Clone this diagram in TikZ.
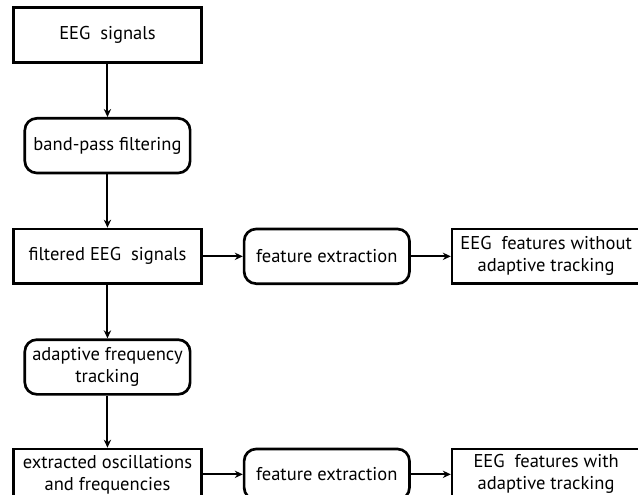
\documentclass[tikz,border=0pt]{standalone}
\usepackage{fontspec}
\setmainfont{PT Sans}
\usetikzlibrary{positioning,arrows.meta}

\begin{document}
\begin{tikzpicture}[
      node distance=40pt and 30pt,
      every node/.style={font=\fontsize{13.9}{16.5}\selectfont},
      data/.style={rectangle, draw, line width=2pt, minimum height=41pt,
                   minimum width=141pt, align=center, inner sep=1pt},
      proc/.style={rectangle, draw, line width=2pt, rounded corners=9pt,
                   minimum height=41pt, minimum width=124pt, align=center,
                   inner sep=1pt},
      low/.style={minimum height=38pt},
      arrow/.style={-{Stealth[length=6pt,width=5.5pt]}, line width=1.5pt}
    ]
    \useasboundingbox (-80.6pt,26.25pt) rectangle (397.9pt,-345pt);
    % --- left column ---
    \node[data] (sig) {EEG~~signals};
    \node[proc, below=of sig] (bp) {band-pass filtering};
    \node[data, below=of bp] (filt) {filtered EEG~~signals};
    \node[proc, below=of filt] (aft) {adaptive frequency\\tracking};
    \node[data, low, below=39pt of aft] (ext) {extracted oscillations\\and frequencies};
    % --- feature branches ---
    \node[proc, right=of filt] (fe1) {feature extraction};
    \node[data, right=of fe1] (out1) {EEG~~features without\\adaptive tracking};
    \node[proc, low, right=of ext] (fe2) {feature extraction};
    \node[data, low, right=of fe2] (out2) {EEG~~features with\\adaptive tracking};

    \draw[arrow] (sig) -- (bp);
    \draw[arrow] (bp) -- (filt);
    \draw[arrow] (filt) -- (aft);
    \draw[arrow] (aft) -- (ext);
    \draw[arrow] (filt) -- (fe1);
    \draw[arrow] (fe1) -- (out1);
    \draw[arrow] (ext) -- (fe2);
    \draw[arrow] (fe2) -- (out2);
  \end{tikzpicture}
\end{document}
